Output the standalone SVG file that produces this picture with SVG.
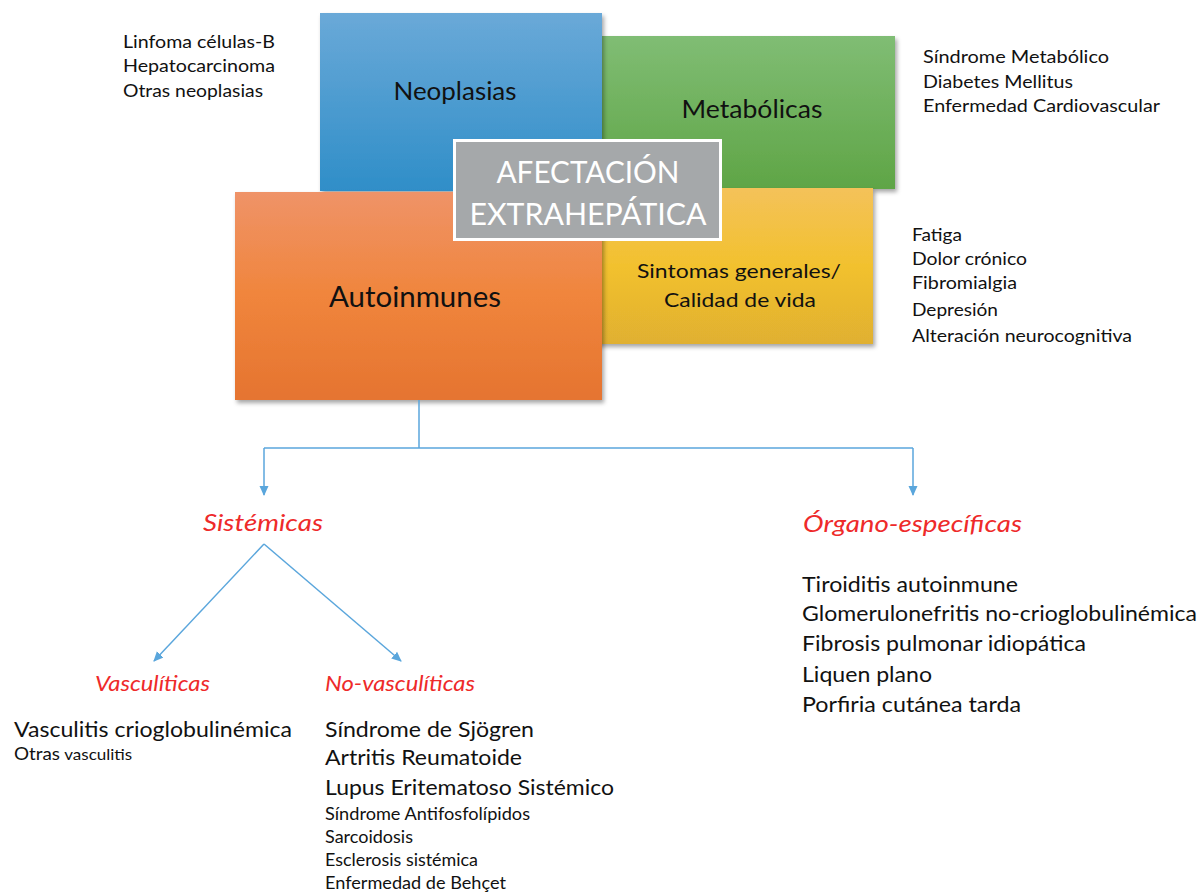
<svg xmlns="http://www.w3.org/2000/svg" width="1200" height="892" viewBox="0 0 1200 892">
<style>
text{font-family:Lato,"Open Sans","Liberation Sans",sans-serif;}
.t{fill:#111;}
.box{filter:url(#sh);}
.red{fill:#ee2a2a;font-style:italic;}
.con{fill:none;stroke:#5aa6dc;stroke-width:1.5;}
</style>
<defs>
<filter id="sh" x="-10%" y="-10%" width="125%" height="125%">
<feDropShadow dx="2" dy="3" stdDeviation="2" flood-color="#000" flood-opacity="0.35"/>
</filter>
<linearGradient id="gBlue" x1="0" y1="0" x2="0" y2="1"><stop offset="0" stop-color="#6aa9d8"/><stop offset="1" stop-color="#2f8ec8"/></linearGradient>
<linearGradient id="gGreen" x1="0" y1="0" x2="0" y2="1"><stop offset="0" stop-color="#80bd74"/><stop offset="1" stop-color="#5fa546"/></linearGradient>
<linearGradient id="gYel" x1="0" y1="0" x2="0" y2="1"><stop offset="0" stop-color="#f4c25a"/><stop offset="0.5" stop-color="#f2c12e"/><stop offset="1" stop-color="#e0b030"/></linearGradient>
<linearGradient id="gOr" x1="0" y1="0" x2="0" y2="1"><stop offset="0" stop-color="#ef9368"/><stop offset="0.5" stop-color="#f0853c"/><stop offset="1" stop-color="#e57430"/></linearGradient>
<marker id="ah" markerWidth="10" markerHeight="10" refX="9" refY="5" orient="auto" markerUnits="userSpaceOnUse">
<path d="M0,0.5 L10,5 L0,9.5 z" fill="#5aa6dc"/>
</marker>
</defs>

<g id="metabolicas">
<rect class="box" x="590" y="36" width="305" height="153" fill="url(#gGreen)"/>
<text class="t" x="752" y="118" font-size="25" text-anchor="middle" textLength="141" lengthAdjust="spacingAndGlyphs">Metabólicas</text>
</g>
<g id="neoplasias">
<rect class="box" x="320" y="13" width="282" height="178" fill="url(#gBlue)"/>
<text class="t" x="455" y="100" font-size="25" text-anchor="middle" textLength="123" lengthAdjust="spacingAndGlyphs">Neoplasias</text>
</g>
<g id="sintomas">
<rect class="box" x="590" y="188" width="283" height="156" fill="url(#gYel)"/>
<text class="t" x="739" y="278" font-size="20" text-anchor="middle" textLength="204" lengthAdjust="spacingAndGlyphs">Sintomas generales/</text>
<text class="t" x="740" y="307" font-size="20" text-anchor="middle" textLength="152" lengthAdjust="spacingAndGlyphs">Calidad de vida</text>
</g>
<g id="autoinmunes">
<rect class="box" x="235" y="192" width="367" height="208" fill="url(#gOr)"/>
<text class="t" x="415" y="307" font-size="28" text-anchor="middle" textLength="172" lengthAdjust="spacingAndGlyphs">Autoinmunes</text>
</g>
<g id="afectacion">
<rect x="454.5" y="140.5" width="266" height="99" fill="#a5a8aa" stroke="#ffffff" stroke-width="3"/>
<text x="588" y="183" font-size="30" text-anchor="middle" fill="#fff" textLength="183" lengthAdjust="spacingAndGlyphs">AFECTACIÓN</text>
<text x="588" y="225" font-size="30" text-anchor="middle" fill="#fff" textLength="237" lengthAdjust="spacingAndGlyphs">EXTRAHEPÁTICA</text>
</g>

<g id="neoplasias-list" font-size="17.5">
<text class="t" x="123" y="48" textLength="152" lengthAdjust="spacingAndGlyphs">Linfoma células-B</text>
<text class="t" x="123" y="72" textLength="152" lengthAdjust="spacingAndGlyphs">Hepatocarcinoma</text>
<text class="t" x="123" y="97" textLength="140" lengthAdjust="spacingAndGlyphs">Otras neoplasias</text>
</g>
<g id="metabolicas-list" font-size="17.5">
<text class="t" x="923" y="63" textLength="186" lengthAdjust="spacingAndGlyphs">Síndrome Metabólico</text>
<text class="t" x="923" y="88" textLength="150" lengthAdjust="spacingAndGlyphs">Diabetes Mellitus</text>
<text class="t" x="923" y="112" textLength="237" lengthAdjust="spacingAndGlyphs">Enfermedad Cardiovascular</text>
</g>
<g id="sintomas-list" font-size="17.5">
<text class="t" x="912" y="241" textLength="50" lengthAdjust="spacingAndGlyphs">Fatiga</text>
<text class="t" x="912" y="265" textLength="115" lengthAdjust="spacingAndGlyphs">Dolor crónico</text>
<text class="t" x="912" y="289" textLength="105" lengthAdjust="spacingAndGlyphs">Fibromialgia</text>
<text class="t" x="912" y="316" textLength="86" lengthAdjust="spacingAndGlyphs">Depresión</text>
<text class="t" x="912" y="342" textLength="220" lengthAdjust="spacingAndGlyphs">Alteración neurocognitiva</text>
</g>

<g id="connectors">
<path class="con" d="M419,400 V448"/>
<path class="con" d="M264,448 H913"/>
<path class="con" d="M264,448 V495" marker-end="url(#ah)"/>
<path class="con" d="M913,448 V495" marker-end="url(#ah)"/>
<path class="con" d="M264,544 L154,661" marker-end="url(#ah)"/>
<path class="con" d="M264,544 L401,661" marker-end="url(#ah)"/>
</g>

<g id="sistemicas">
<text class="red" x="263" y="531" font-size="23" text-anchor="middle" textLength="120" lengthAdjust="spacingAndGlyphs">Sistémicas</text>
</g>
<g id="organo">
<text class="red" x="803" y="532" font-size="23" textLength="219" lengthAdjust="spacingAndGlyphs">Órgano-específicas</text>
<text class="t" x="802" y="592" font-size="21.5" textLength="216" lengthAdjust="spacingAndGlyphs">Tiroiditis autoinmune</text>
<text class="t" x="802" y="621" font-size="21.5" textLength="395" lengthAdjust="spacingAndGlyphs">Glomerulonefritis no-crioglobulinémica</text>
<text class="t" x="802" y="651" font-size="21.5" textLength="284" lengthAdjust="spacingAndGlyphs">Fibrosis pulmonar idiopática</text>
<text class="t" x="802" y="682" font-size="21.5" textLength="130" lengthAdjust="spacingAndGlyphs">Liquen plano</text>
<text class="t" x="802" y="712" font-size="21.5" textLength="219" lengthAdjust="spacingAndGlyphs">Porfiria cutánea tarda</text>
</g>
<g id="vasculiticas">
<text class="red" x="95" y="691" font-size="21" textLength="115" lengthAdjust="spacingAndGlyphs">Vasculíticas</text>
<text class="t" x="14" y="737" font-size="21.5" textLength="278" lengthAdjust="spacingAndGlyphs">Vasculitis crioglobulinémica</text>
<text class="t" x="14" y="760" font-size="16.5"><tspan textLength="46" lengthAdjust="spacingAndGlyphs">Otras</tspan> <tspan font-size="15" textLength="68" lengthAdjust="spacingAndGlyphs">vasculitis</tspan></text>
</g>
<g id="no-vasculiticas">
<text class="red" x="325" y="691" font-size="21" textLength="150" lengthAdjust="spacingAndGlyphs">No-vasculíticas</text>
<text class="t" x="325" y="737" font-size="21.5" textLength="209" lengthAdjust="spacingAndGlyphs">Síndrome de Sjögren</text>
<text class="t" x="325" y="765" font-size="21.5" textLength="197" lengthAdjust="spacingAndGlyphs">Artritis Reumatoide</text>
<text class="t" x="325" y="795" font-size="21.5" textLength="289" lengthAdjust="spacingAndGlyphs">Lupus Eritematoso Sistémico</text>
<text class="t" x="325" y="820" font-size="16.5" textLength="205" lengthAdjust="spacingAndGlyphs">Síndrome Antifosfolípidos</text>
<text class="t" x="325" y="843" font-size="16.5" textLength="88" lengthAdjust="spacingAndGlyphs">Sarcoidosis</text>
<text class="t" x="325" y="866" font-size="16.5" textLength="153" lengthAdjust="spacingAndGlyphs">Esclerosis sistémica</text>
<text class="t" x="325" y="889" font-size="16.5" textLength="181" lengthAdjust="spacingAndGlyphs">Enfermedad de Behçet</text>
</g>
</svg>
